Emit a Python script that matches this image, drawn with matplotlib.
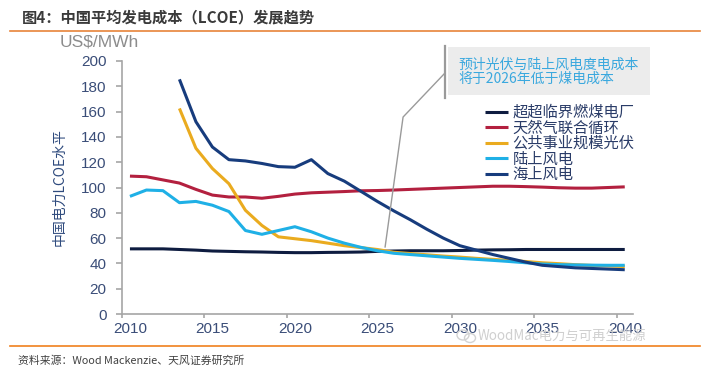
"""China average LCOE trend chart (coal, gas, solar, onshore and offshore wind)."""

import matplotlib
import numpy as np

matplotlib.use("Agg")
from matplotlib import pyplot as plt  # noqa: E402
from matplotlib.lines import Line2D  # noqa: E402
from matplotlib.patches import Ellipse, Rectangle  # noqa: E402

NA = np.nan

years = np.arange(2010, 2041)

coal = [51.5, 51.5, 51.5, 51.0, 50.5, 49.8, 49.5, 49.2, 49.0, 48.7, 48.5,
        48.5, 48.7, 48.8, 49.0, 49.5, 49.8, 50.0, 50.0, 50.0, 50.2,
        50.5, 50.7, 50.8, 51.0, 51.0, 51.0, 51.0, 51.0, 51.0, 51.0]
gas = [109.0, 108.5, 106.0, 103.5, 98.5, 94.0, 92.5, 92.5, 91.5, 93.0, 94.8,
       95.8, 96.3, 96.8, 97.4, 97.6, 98.0, 98.5, 99.0, 99.5, 100.0,
       100.5, 101.0, 101.0, 100.7, 100.3, 99.8, 99.5, 99.5, 100.0, 100.5]
solar = [NA, NA, NA, 162.5, 131.0, 115.0, 103.0, 82.0, 70.0, 61.0, 59.5,
         58.0, 56.0, 54.0, 52.5, 51.0, 48.8, 47.8, 46.8, 45.8, 45.0,
         44.0, 43.2, 42.4, 41.5, 40.5, 39.8, 39.0, 38.4, 38.0, 37.5]
onshore = [93.0, 98.0, 97.5, 88.0, 89.0, 86.0, 81.0, 66.0, 63.0, 66.0, 69.0,
           65.0, 60.0, 56.0, 52.7, 50.0, 48.0, 47.0, 46.0, 45.0, 44.0,
           43.2, 42.4, 41.5, 40.5, 39.5, 39.0, 38.8, 38.6, 38.5, 38.5]
offshore = [NA, NA, NA, 185.5, 152.0, 132.0, 122.0, 121.0, 119.0, 116.5, 116.0,
            122.0, 111.0, 105.0, 97.0, 89.0, 81.5, 74.5, 67.0, 60.0, 54.0,
            50.5, 47.0, 44.0, 41.0, 38.5, 37.5, 36.5, 36.0, 35.5, 35.0]

series_names = ["超超临界燃煤电厂", "天然气联合循环", "公共事业规模光伏", "陆上风电", "海上风电"]
series_colors = ["#0e1c40", "#b3203f", "#eaab1f", "#1fb0e6", "#173c7d"]

y_ticks = list(range(0, 201, 20))
x_labels = [2010, 2015, 2020, 2025, 2030, 2035, 2040]

# pointer from the note box down to the 2026 crossing
pointer_x = [2029.1, 2026.56, 2025.47]
pointer_y = [190.5, 155.7, 53.0]

CJK = ["Noto Sans CJK SC", "DejaVu Sans"]
plt.rcParams["font.family"] = ["Liberation Sans", "Noto Sans CJK SC"]

fig = plt.figure(figsize=(7.11, 3.72), dpi=100)
ax = fig.add_axes([121.7 / 711, 1 - 314 / 372, (633 - 121.7) / 711, (314 - 61) / 372])

for values, name, color in zip([coal, gas, solar, onshore, offshore], series_names, series_colors):
    ax.plot(years, values, color=color, linewidth=2.2, label=name, solid_capstyle="butt")

ax.set_xlim(2009.5, 2040.5)
ax.set_ylim(0, 200)
ax.set_yticks(y_ticks)
ax.set_xticks(x_labels)
ax.set_xticks(np.arange(2009.5, 2041, 5), minor=True)
ax.tick_params(axis="x", which="major", length=0, pad=6, labelsize=11, labelcolor="#3a4d78")
ax.tick_params(axis="x", which="minor", length=3, width=1.2, color="#a6a6a6", direction="out")
ax.tick_params(axis="y", length=4, width=1.2, color="#a6a6a6", pad=7, labelsize=11, labelcolor="#3a4d78")
for side in ("top", "right"):
    ax.spines[side].set_visible(False)
for side in ("left", "bottom"):
    ax.spines[side].set_color("#a6a6a6")
    ax.spines[side].set_linewidth(1.2)

ax.set_ylabel("中国电力LCOE水平", family=CJK, fontsize=10, color="#2e4a7d", labelpad=4)
ax.yaxis.set_label_coords(-0.108, 0.5)

legend = ax.legend(
    loc="upper left",
    bbox_to_anchor=(485 / 711, 1 - 104 / 372),
    bbox_transform=fig.transFigure,
    frameon=False,
    borderpad=0,
    borderaxespad=0,
    handlelength=1.5,
    handletextpad=0.3,
    labelspacing=-0.1,
    prop={"family": CJK, "size": 11},
    labelcolor="#2a3c68",
)

# note box with pointer
fig.add_artist(Rectangle((448 / 711, 1 - 95 / 372), 202 / 711, 48 / 372,
                         transform=fig.transFigure, facecolor="#ececec", edgecolor="none"))
fig.add_artist(Line2D([445 / 711, 445 / 711], [1 - 46 / 372, 1 - 98 / 372],
                      transform=fig.transFigure, color="#9a9a9a", linewidth=1.6))
ax.plot(pointer_x, pointer_y, color="#9a9a9a", linewidth=1.0, clip_on=False)
fig.text(458 / 711, 1 - 65 / 372, "预计光伏与陆上风电度电成本", family=CJK, fontsize=10,
         color="#3aa8de", va="center")
fig.text(458 / 711, 1 - 79 / 372, "将于2026年低于煤电成本", family=CJK, fontsize=10,
         color="#3aa8de", va="center")

# header / footer
fig.text(22 / 711, 1 - 17 / 372, "图4：中国平均发电成本（LCOE）发展趋势", family=CJK, fontsize=11,
         fontweight="bold", color="#3a3a3a", va="center")
fig.add_artist(Line2D([10 / 711, 700 / 711], [1 - 31 / 372, 1 - 31 / 372],
                      transform=fig.transFigure, color="#e8843a", linewidth=1.2))
fig.text(60 / 711, 1 - 42 / 372, "US$/MWh", fontsize=12.5, color="#8c8c8c", va="center")

# faint watermark with a small chat-bubble mark
fig.add_artist(Ellipse((463 / 711, 1 - 335 / 372), 12 / 711, 10 / 372, transform=fig.transFigure,
                       facecolor="none", edgecolor="#d2d2d2", linewidth=1.0))
fig.add_artist(Ellipse((470 / 711, 1 - 338 / 372), 11 / 711, 9 / 372, transform=fig.transFigure,
                       facecolor="none", edgecolor="#d2d2d2", linewidth=1.0))
fig.text(478 / 711, 1 - 336 / 372, "WoodMac电力与可再生能源", family=CJK, fontsize=9.6,
         color="#cfcfcf", va="center")

fig.add_artist(Line2D([10 / 711, 700 / 711], [1 - 346 / 372, 1 - 346 / 372],
                      transform=fig.transFigure, color="#f0801e", linewidth=1.2))
fig.text(18 / 711, 1 - 361 / 372, "资料来源：Wood Mackenzie、天风证券研究所", family=CJK, fontsize=7.8,
         color="#404040", va="center")

fig.savefig("out.png", dpi=100)
